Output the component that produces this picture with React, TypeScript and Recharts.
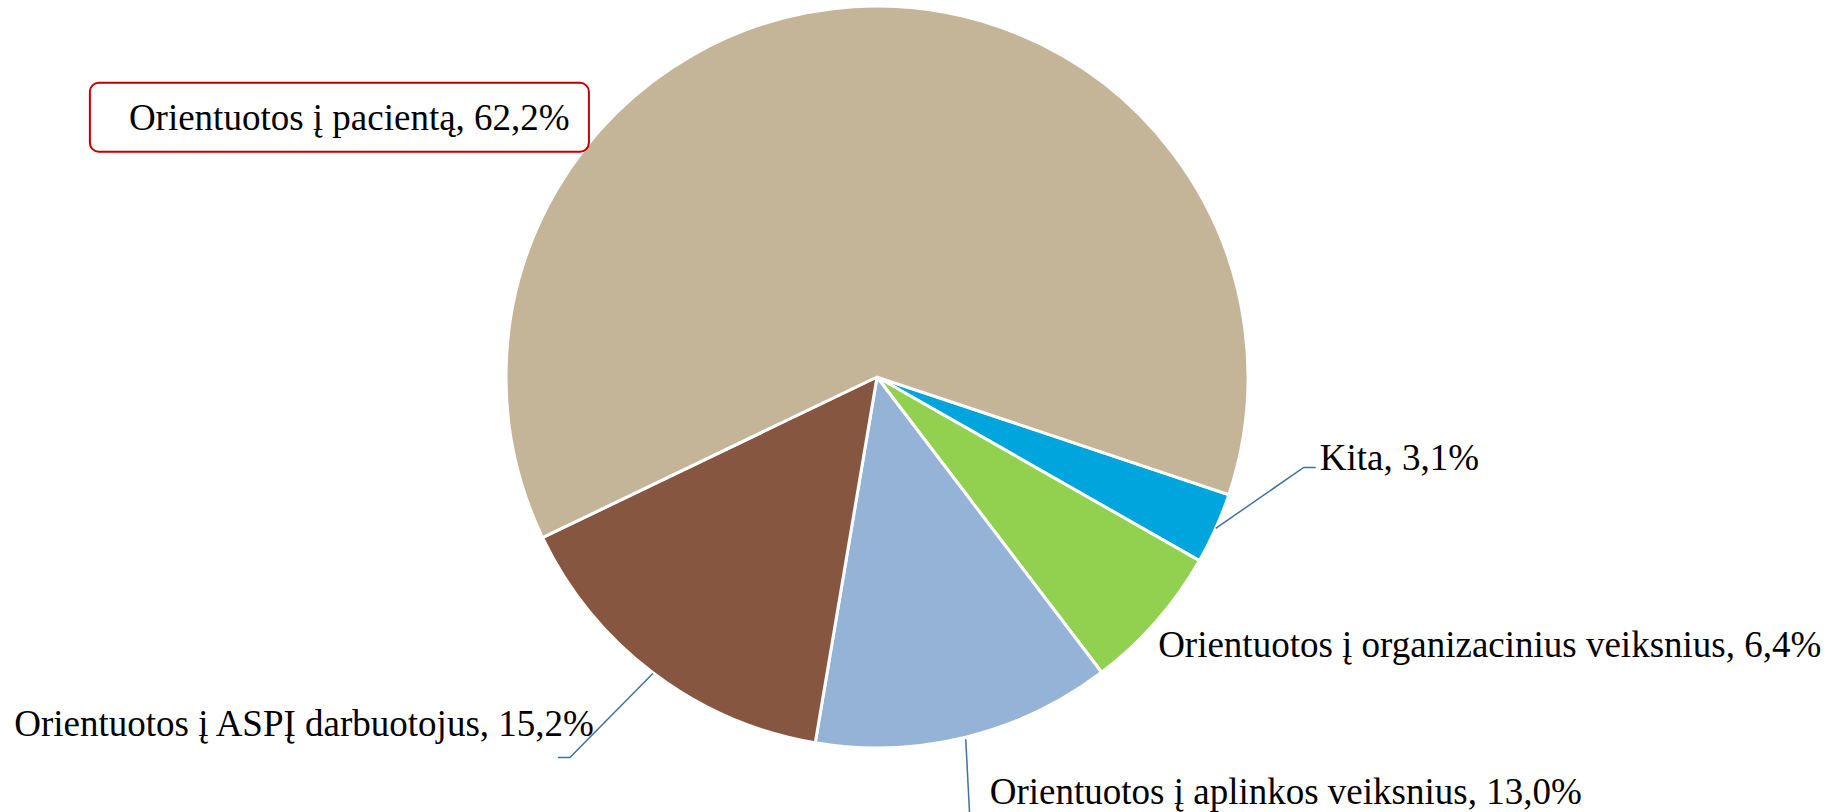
import React from 'react';
import { PieChart, Pie, Cell } from 'recharts';

const categories = [
  'Kita',
  'Orientuotos į organizacinius veiksnius',
  'Orientuotos į aplinkos veiksnius',
  'Orientuotos į ASPĮ darbuotojus',
  'Orientuotos į pacientą',
];
const shares = [3.1, 6.4, 13.0, 15.2, 62.2];
const colors = ['#00A5DD', '#92D050', '#95B3D7', '#865641', '#C4B498'];

const data = categories.map((name, i) => ({ name, value: shares[i] }));

// label layout: offsets relative to the slice's outer edge point at its mid angle
type LabelLayout = {
  leader: [number, number][];
  tx: number;
  ty: number;
  anchor: 'start' | 'end';
  box?: { x: number; y: number; w: number; h: number };
};
const labelLayout: LabelLayout[] = [
  { leader: [[0, 0], [88, -61], [100, -61]], tx: 104, ty: -58, anchor: 'start' },
  { leader: [], tx: 2, ty: 36, anchor: 'start' },
  { leader: [[0, 2], [5, 100]], tx: 24, ty: 67, anchor: 'start' },
  { leader: [[-1, 0], [-84, 84], [-96, 84]], tx: -60, ty: 63, anchor: 'end' },
  { leader: [], tx: -725, ty: 123, anchor: 'start', box: { x: -764, y: 76, w: 499, h: 69 } },
];

const RAD = Math.PI / 180;

const renderLabel = (props: any) => {
  const { cx, cy, midAngle, outerRadius, index, name, value } = props;
  const ex = cx + outerRadius * Math.cos(-midAngle * RAD);
  const ey = cy + outerRadius * Math.sin(-midAngle * RAD);
  const L = labelLayout[index];
  const text = `${name}, ${Number(value).toFixed(1).replace('.', ',')}%`;
  return (
    <g key={`lbl-${index}`}>
      {L.leader.length > 1 && (
        <polyline
          points={L.leader.map(([dx, dy]) => `${ex + dx},${ey + dy}`).join(' ')}
          fill="none"
          stroke="#41719C"
          strokeWidth={1.5}
        />
      )}
      {L.box && (
        <rect
          x={ex + L.box.x}
          y={ey + L.box.y}
          width={L.box.w}
          height={L.box.h}
          rx={9}
          ry={9}
          fill="#FFFFFF"
          stroke="#C00000"
          strokeWidth={2}
        />
      )}
      <text
        x={ex + L.tx}
        y={ey + L.ty}
        textAnchor={L.anchor}
        fontFamily="'Liberation Serif', 'Times New Roman', serif"
        fontSize={37}
        fill="#000000"
      >
        {text}
      </text>
    </g>
  );
};

export default function App() {
  return (
    <div style={{ position: 'absolute', left: 0, top: 0, width: 1837, height: 812, background: '#FFFFFF', overflow: 'hidden' }}>
      <PieChart width={1837} height={812} margin={{ top: 0, right: 0, bottom: 0, left: 0 }}>
        <Pie
          data={data}
          dataKey="value"
          nameKey="name"
          cx={877}
          cy={377}
          outerRadius={371}
          startAngle={-18.5}
          endAngle={-378.5}
          stroke="#FFFFFF"
          strokeWidth={3}
          label={renderLabel}
          labelLine={false}
          isAnimationActive={false}
        >
          {data.map((d, i) => (
            <Cell key={d.name} fill={colors[i]} />
          ))}
        </Pie>
      </PieChart>
    </div>
  );
}
